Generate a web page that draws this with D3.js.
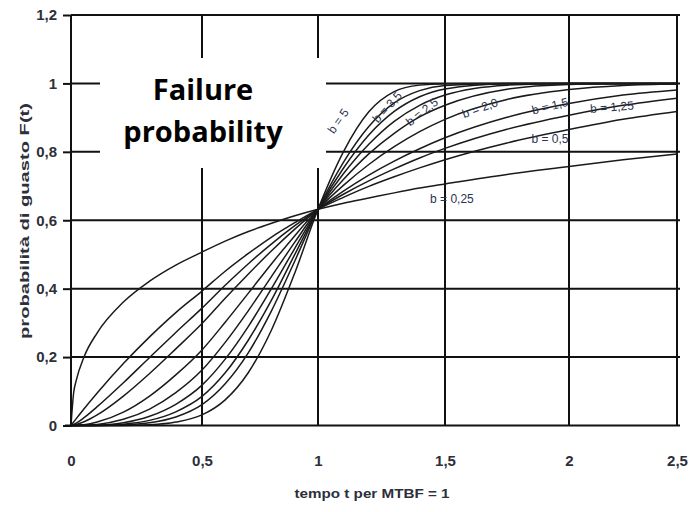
<!DOCTYPE html>
<html>
<head>
<meta charset="utf-8">
<script src="https://cdn.jsdelivr.net/npm/d3@7"></script>
<style>
  html, body { margin: 0; padding: 0; background: #fff; }
  svg { display: block; }
</style>
</head>
<body>
<svg id="chart" width="692" height="512"></svg>
<script>
// ---------- data ----------
const tValues = [0, 0.01, 0.02, 0.05, 0.1, 0.2, 0.3, 0.4, 0.5, 0.6, 0.7, 0.8, 0.9, 1.0, 1.1, 1.2, 1.3, 1.4, 1.5, 1.75, 2.0, 2.25, 2.5];

const F_b050 = [0, 0.095, 0.132, 0.201, 0.271, 0.361, 0.422, 0.469, 0.507, 0.539, 0.567, 0.591, 0.613, 0.632, 0.650, 0.665, 0.680, 0.694, 0.706, 0.734, 0.757, 0.777, 0.794];
const F_b100 = [0, 0.010, 0.020, 0.049, 0.095, 0.181, 0.259, 0.330, 0.393, 0.451, 0.503, 0.551, 0.593, 0.632, 0.667, 0.699, 0.727, 0.753, 0.777, 0.826, 0.865, 0.895, 0.918];
const F_b125 = [0, 0.003, 0.007, 0.023, 0.055, 0.125, 0.199, 0.272, 0.343, 0.410, 0.473, 0.531, 0.584, 0.632, 0.676, 0.715, 0.750, 0.782, 0.810, 0.866, 0.907, 0.936, 0.957];
const F_b150 = [0, 0.001, 0.003, 0.011, 0.031, 0.086, 0.152, 0.224, 0.298, 0.372, 0.443, 0.511, 0.574, 0.632, 0.685, 0.732, 0.773, 0.809, 0.841, 0.901, 0.941, 0.966, 0.981];
const F_b200 = [0, 0, 0, 0.002, 0.010, 0.039, 0.086, 0.148, 0.221, 0.302, 0.387, 0.473, 0.555, 0.632, 0.702, 0.763, 0.815, 0.859, 0.895, 0.953, 0.982, 0.994, 0.998];
const F_b250 = [0, 0, 0, 0.001, 0.003, 0.018, 0.048, 0.096, 0.162, 0.243, 0.336, 0.436, 0.536, 0.632, 0.719, 0.794, 0.854, 0.902, 0.936, 0.983, 0.997, 0.999, 1.000];
const F_b300 = [0, 0, 0, 0, 0.001, 0.008, 0.027, 0.062, 0.118, 0.194, 0.290, 0.401, 0.518, 0.632, 0.736, 0.822, 0.889, 0.936, 0.966, 0.995, 1.000, 1.000, 1.000];
const F_b350 = [0, 0, 0, 0, 0, 0.004, 0.015, 0.040, 0.085, 0.154, 0.250, 0.367, 0.500, 0.632, 0.752, 0.849, 0.918, 0.961, 0.984, 0.999, 1.000, 1.000, 1.000];
const F_b400 = [0, 0, 0, 0, 0, 0.002, 0.008, 0.025, 0.061, 0.122, 0.213, 0.336, 0.481, 0.632, 0.769, 0.874, 0.943, 0.979, 0.994, 1.000, 1.000, 1.000, 1.000];
const F_b500 = [0, 0, 0, 0, 0, 0, 0.002, 0.010, 0.031, 0.075, 0.155, 0.280, 0.446, 0.632, 0.800, 0.917, 0.976, 0.995, 0.999, 1.000, 1.000, 1.000, 1.000];

const seriesList = [F_b050, F_b100, F_b125, F_b150, F_b200, F_b250, F_b300, F_b350, F_b400, F_b500];

const xTickValues = [0, 0.5, 1, 1.5, 2, 2.5];
const xTickLabels = ["0", "0,5", "1", "1,5", "2", "2,5"];
const yTickValues = [0, 0.2, 0.4, 0.6, 0.8, 1, 1.2];
const yTickLabels = ["0", "0,2", "0,4", "0,6", "0,8", "1", "1,2"];

// curve annotations (text + anchor in data units + rotation)
const curveLabelTexts = ["b = 5", "b = 3,5", "b = 2,5", "b = 2,0", "b = 1,5", "b = 1,25", "b = 0,5", "b = 0,25"];
const curveLabelT = [1.079, 1.272, 1.409, 1.641, 1.923, 2.199, 1.923, 1.528];
const curveLabelF = [0.890, 0.931, 0.917, 0.928, 0.934, 0.931, 0.837, 0.662];
const curveLabelAngle = [-55, -48, -38, -20, -14, -5, 0, 0];

const xTitle = "tempo t per MTBF = 1";
const yTitle = "probabilità di guasto F(t)";
const boxTitleLines = ["Failure", "probability"];

// ---------- layout ----------
const svg = d3.select("#chart");
const plotLeft = 71, plotRight = 677, plotTop = 15, plotBottom = 425.5;

// the reference grid is slightly uneven, so the x scale is piecewise linear
const x = d3.scaleLinear()
  .domain([0, 0.5, 1, 1.5, 2, 2.5])
  .range([71, 202, 318, 445, 569, 677]);
const y = d3.scaleLinear().domain([0, 1.2]).range([plotBottom, plotTop]);

const ink = "#111";
const textCol = "#2d2f3a";

// grid
const g = svg.append("g");
g.selectAll("line.h").data(yTickValues.filter(v => v > 0)).enter().append("line")
  .attr("x1", plotLeft).attr("x2", plotRight + 3)
  .attr("y1", d => y(d)).attr("y2", d => y(d))
  .attr("stroke", ink).attr("stroke-width", 2);
g.selectAll("line.v").data(xTickValues.filter(v => v > 0)).enter().append("line")
  .attr("x1", d => x(d)).attr("x2", d => x(d))
  .attr("y1", plotTop).attr("y2", plotBottom)
  .attr("stroke", ink).attr("stroke-width", 2);

// curves
const line = d3.line()
  .x((d, i) => x(tValues[i]))
  .y(d => y(d))
  .curve(d3.curveMonotoneX);
svg.append("g").selectAll("path").data(seriesList).enter().append("path")
  .attr("d", d => line(d))
  .attr("fill", "none")
  .attr("stroke", "#1a1a1a")
  .attr("stroke-width", 1.5);

// axes
const yAxis = d3.axisLeft(y)
  .tickValues(yTickValues)
  .tickFormat((d, i) => yTickLabels[i])
  .tickSize(8).tickPadding(6);
const ya = svg.append("g").attr("transform", `translate(${plotLeft},0)`).call(yAxis);
ya.select(".domain").remove();
ya.selectAll(".tick line").attr("stroke", ink).attr("stroke-width", 2);
ya.selectAll(".tick text")
  .attr("fill", textCol)
  .style("font-family", "'Liberation Sans', Arial, sans-serif")
  .style("font-weight", "bold")
  .style("font-size", "15px");

const xAxis = d3.axisBottom(x)
  .tickValues(xTickValues)
  .tickFormat((d, i) => xTickLabels[i])
  .tickSize(0).tickPadding(30);
const xa = svg.append("g").attr("transform", `translate(0,${plotBottom})`).call(xAxis);
xa.select(".domain").remove();
xa.selectAll(".tick text")
  .attr("fill", textCol)
  .style("font-family", "'Liberation Sans', Arial, sans-serif")
  .style("font-weight", "bold")
  .style("font-size", "15px");

// axis lines
svg.append("line").attr("x1", plotLeft).attr("x2", plotLeft).attr("y1", plotTop).attr("y2", plotBottom + 1)
  .attr("stroke", ink).attr("stroke-width", 2);
svg.append("line").attr("x1", plotLeft - 6).attr("x2", plotRight + 3).attr("y1", plotBottom).attr("y2", plotBottom)
  .attr("stroke", ink).attr("stroke-width", 2.2);

// curve labels
svg.append("g").selectAll("text").data(curveLabelTexts).enter().append("text")
  .attr("transform", (d, i) => `translate(${x(curveLabelT[i])},${y(curveLabelF[i])}) rotate(${curveLabelAngle[i]})`)
  .attr("text-anchor", "middle")
  .attr("dy", "0.35em")
  .attr("fill", "#2b3350")
  .style("font-family", "'Liberation Sans', Arial, sans-serif")
  .style("font-size", "12px")
  .text(d => d);

// axis titles
svg.append("text")
  .attr("x", 372).attr("y", 498)
  .attr("text-anchor", "middle")
  .attr("fill", textCol)
  .style("font-family", "'Liberation Sans', Arial, sans-serif")
  .style("font-weight", "bold")
  .style("font-size", "12px")
  .attr("textLength", 155).attr("lengthAdjust", "spacingAndGlyphs")
  .text(xTitle);

svg.append("text")
  .attr("transform", "translate(29,221) rotate(-90)")
  .attr("text-anchor", "middle")
  .attr("fill", textCol)
  .style("font-family", "'Liberation Sans', Arial, sans-serif")
  .style("font-weight", "bold")
  .style("font-size", "12px")
  .attr("textLength", 236).attr("lengthAdjust", "spacingAndGlyphs")
  .text(yTitle);

// overlay title box
svg.append("rect").attr("x", 100).attr("y", 58).attr("width", 226).attr("height", 110).attr("fill", "#fff");
svg.append("g").selectAll("text").data(boxTitleLines).enter().append("text")
  .attr("x", 203).attr("y", (d, i) => 100 + i * 42)
  .attr("text-anchor", "middle")
  .attr("fill", "#000")
  .style("font-family", "'Open Sans', sans-serif")
  .style("font-weight", "bold")
  .style("font-size", "29px")
  .text(d => d);
</script>
</body>
</html>
